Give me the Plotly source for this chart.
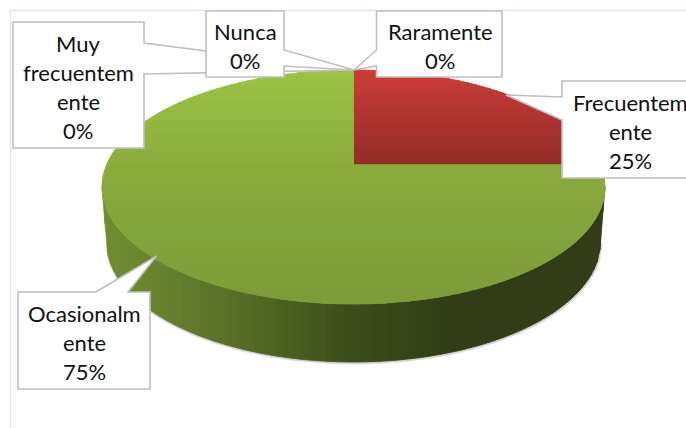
import numpy as np
import plotly.graph_objects as go

# order is clockwise from 12 o'clock
categories = ["Frecuentemente", "Ocasionalmente", "Raramente", "Nunca", "Muy frecuentemente"]
shares = [25, 75, 0, 0, 0]
label_lines = [
    ["Frecuentem", "ente"],
    ["Ocasionalm", "ente"],
    ["Raramente"],
    ["Nunca"],
    ["Muy", "frecuentem", "ente"],
]

W, H = 686, 428
FONT = "Lato"

# pie geometry, px
CX, CY, RX, RY = 353.5, 187, 251.5, 117
APEX = (353.5, 165)
CY2, RX2, RY2 = 242, 247, 120

# top gradient per slice, (y, colour) stops
SLICE_GRAD = {
    "Frecuentemente": [(70, (203, 62, 58)), (165, (148, 44, 41))],
    "Ocasionalmente": [(70, (157, 195, 70)), (180, (137, 169, 61)), (304, (125, 156, 58))],
}

WALL_X = [102, 155, 230, 300, 345, 400, 450, 605]
WALL_R = [114, 106, 90, 74, 62, 56, 51, 50]
WALL_G = [142, 132, 113, 93, 79, 71, 62, 60]
WALL_B = [50, 47, 40, 32, 28, 25, 22, 22]


def edge_point(theta):
    # ray from the apex to the rim, theta clockwise from up
    dx, dy = np.sin(theta), -np.cos(theta)
    ax, ay = APEX[0] - CX, APEX[1] - CY
    a = (dx / RX) ** 2 + (dy / RY) ** 2
    b = 2 * (ax * dx / RX ** 2 + ay * dy / RY ** 2)
    c = (ax / RX) ** 2 + (ay / RY) ** 2 - 1
    t = (-b + np.sqrt(b * b - 4 * a * c)) / (2 * a)
    return APEX[0] + t * dx, APEX[1] + t * dy


def wedge(start, end):
    # rim is walked in ellipse angle so it stays smooth
    p0, p1 = edge_point(start), edge_point(end)
    a0 = np.arctan2((p0[0] - CX) / RX, -(p0[1] - CY) / RY)
    a1 = np.arctan2((p1[0] - CX) / RX, -(p1[1] - CY) / RY)
    while a1 <= a0:
        a1 += 2 * np.pi
    aa = np.linspace(a0, a1, 240)
    return [APEX] + [(CX + RX * np.sin(a), CY - RY * np.cos(a)) for a in aa]


def clip_band(poly, y0, y1):
    def half(pts, keep, cross):
        out = []
        for i in range(len(pts)):
            p, q = pts[i], pts[(i + 1) % len(pts)]
            if keep(p):
                out.append(p)
            if keep(p) != keep(q):
                t = (cross - p[1]) / (q[1] - p[1])
                out.append((p[0] + t * (q[0] - p[0]), cross))
        return out
    pts = half(poly, lambda p: p[1] >= y0, y0)
    return half(pts, lambda p: p[1] <= y1, y1) if pts else []


def grad_color(stops, y):
    ys = [s[0] for s in stops]
    return "rgb(%d,%d,%d)" % tuple(round(np.interp(y, ys, [s[1][k] for s in stops])) for k in range(3))


def poly_trace(xs, ys, color):
    return go.Scatter(x=xs, y=ys, mode="lines", fill="toself", fillcolor=color,
                      line=dict(color=color, width=0.8, simplify=False), hoverinfo="skip", showlegend=False)


fig = go.Figure()

# soft shadow under the wall
xs = np.linspace(CX - RX2, CX + RX2, 200)
ys = CY2 + RY2 * np.sqrt(np.clip(1 - ((xs - CX) / RX2) ** 2, 0, 1))
for w, a in [(4, 0.10), (2.5, 0.18)]:
    fig.add_trace(go.Scatter(x=xs + 0.5, y=ys + 0.8, mode="lines", hoverinfo="skip", showlegend=False,
                             line=dict(color=f"rgba(90,90,90,{a})", width=w)))

# side wall, vertical strips
step = 3
for x0 in np.arange(CX - RX, CX + RX, step):
    x1 = min(x0 + step, CX + RX)
    sx = np.array([x0, x1])
    top = CY + RY * np.sqrt(np.clip(1 - ((sx - CX) / RX) ** 2, 0, 1))
    bot = []
    for x in sx:
        d = abs(x - CX)
        if d <= RX2:
            bot.append(CY2 + RY2 * np.sqrt(1 - (d / RX2) ** 2))
        else:
            bot.append(CY2 + (CY - CY2) * (d - RX2) / (RX - RX2))
    mid = (x0 + x1) / 2
    col = "rgb(%d,%d,%d)" % (np.interp(mid, WALL_X, WALL_R), np.interp(mid, WALL_X, WALL_G),
                             np.interp(mid, WALL_X, WALL_B))
    fig.add_trace(poly_trace([x0, x1, x1, x0, x0], [top[0], top[1], bot[1], bot[0], top[0]], col))

# top face, horizontal strips per slice; strip edges land on the apex height
total = sum(shares)
angle = 0.0
for name, val in zip(categories, shares):
    sweep = 2 * np.pi * val / total
    if val > 0:
        poly = wedge(angle, angle + sweep)
        stops = SLICE_GRAD[name]
        for y0 in np.arange(APEX[1] - 98, CY + RY + 2, 2):
            band = clip_band(poly, y0, y0 + 2)
            if len(band) > 2:
                bx = [p[0] for p in band] + [band[0][0]]
                by = [p[1] for p in band] + [band[0][1]]
                fig.add_trace(poly_trace(bx, by, grad_color(stops, y0 + 1)))
    angle += sweep

# chart frame
FRAME = "#DCE8F8"
fig.add_shape(type="line", x0=10.5, x1=10.5, y0=10, y1=H, line=dict(color=FRAME, width=1.5), layer="below")
fig.add_shape(type="line", x0=10, x1=W, y0=10.5, y1=10.5, line=dict(color=FRAME, width=1.5), layer="below")

# callouts: box, leader base on which side, tip, text centre
TIP = (354, 70)
callouts = {
    "Muy frecuentemente": dict(box=(13, 22, 144, 148), path=[(144, 43), TIP, (144, 74)], tx=78, ty=43),
    "Nunca": dict(box=(206, 11, 284, 77), path=[(284, 50), TIP, (284, 66)], tx=245, ty=31),
    "Raramente": dict(box=(376.5, 11, 502, 77), path=[(376.5, 50), TIP, (376.5, 66)], tx=440, ty=31),
    "Frecuentemente": dict(box=(562, 81, 700, 178), path=[(562, 97), (506, 95), (562, 120)], tx=630, ty=102),
    "Ocasionalmente": dict(box=(18, 292, 150, 389), path=[(96, 292), (156.5, 256), (128, 292)], tx=84, ty=313),
}
LINE_GAP = 29
EDGE = "#BFBFBF"
lines_by_name = dict(zip(categories, label_lines))
values_by_name = dict(zip(categories, shares))

for name in ["Muy frecuentemente", "Nunca", "Raramente", "Frecuentemente", "Ocasionalmente"]:
    c = callouts[name]
    x0, y0, x1, y1 = c["box"]
    p = c["path"]
    # box outline runs out to the leader and back
    if p[0][0] == x0 and p[0][1] > y0:      # leader on left side
        pts = [(x0, y0), (x1, y0), (x1, y1), (x0, y1), p[2], p[1], p[0]]
    elif p[0][0] == x1:                     # leader on right side
        pts = [(x0, y0), (x1, y0), p[0], p[1], p[2], (x1, y1), (x0, y1)]
    else:                                   # leader on top side
        pts = [(x0, y0), p[0], p[1], p[2], (x1, y0), (x1, y1), (x0, y1)]
    path = "M" + " L".join(f"{a},{b}" for a, b in pts) + " Z"
    fig.add_shape(type="path", path=path, fillcolor="white", line=dict(color=EDGE, width=1.6), layer="above")

    for i, line in enumerate(lines_by_name[name] + [f"{values_by_name[name]}%"]):
        fig.add_annotation(x=c["tx"], y=c["ty"] + i * LINE_GAP, text=line, showarrow=False,
                           xanchor="center", yanchor="middle",
                           font=dict(family=FONT, size=22, color="#111111"))

fig.update_layout(
    width=W, height=H, margin=dict(l=0, r=0, t=0, b=0),
    paper_bgcolor="white", plot_bgcolor="white", showlegend=False,
    xaxis=dict(range=[0, W], visible=False, fixedrange=True),
    yaxis=dict(range=[H, 0], visible=False, fixedrange=True),
)

fig.write_html("out.html", config=dict(displayModeBar=False),
               post_script="document.body.style.margin='0';document.body.style.overflow='hidden';")
